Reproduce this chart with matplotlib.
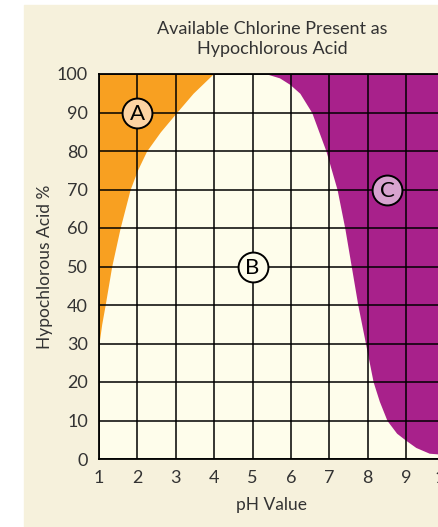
import numpy as np
import matplotlib
matplotlib.use("Agg")
import matplotlib.pyplot as plt
from matplotlib.patches import Rectangle

plt.rcParams["font.family"] = ["Lato", "DejaVu Sans"]

# boundary between region A (orange) and B (cream): pH at each % level
a_pct = [30, 35, 40, 50, 60, 70, 75, 80, 85, 90, 95, 100]
a_ph = [1.0, 1.07, 1.16, 1.33, 1.55, 1.81, 2.0, 2.24, 2.6, 3.02, 3.45, 3.97]

# boundary between region B (cream) and C (purple)
c_pct = [1.2, 1.5, 3, 5, 6.7, 10, 15, 20, 30, 40, 50, 60, 70, 80, 90, 95, 97.3, 99, 100]
c_ph = [10.0, 9.6, 9.25, 8.97, 8.75, 8.5, 8.3, 8.14, 7.94, 7.74, 7.57, 7.4, 7.2,
        6.91, 6.54, 6.23, 5.97, 5.7, 5.37]

labels = ["A", "B", "C"]
label_ph = [2.0, 5.0, 8.5]
label_pct = [90, 50, 70]
label_fill = ["#fdd3a3", "#fefdeb", "#d7a3cf"]

xticks = [1, 2, 3, 4, 5, 6, 7, 8, 9, 10]
yticks = [0, 10, 20, 30, 40, 50, 60, 70, 80, 90, 100]

orange = "#f8a021"
purple = "#a8218b"
cream = "#fefdeb"
panel = "#f6f1dc"
txt = "#333333"

fig = plt.figure(figsize=(4.39, 5.27), dpi=100)
fig.patch.set_facecolor("white")
fig.patches.append(Rectangle((24 / 439, 0), 1, (527 - 5) / 527,
                             transform=fig.transFigure, color=panel, zorder=-10))

ax = fig.add_axes([99 / 439, 68 / 527, 345.6 / 439, 385 / 527])
ax.set_facecolor(cream)
ax.set_xlim(1, 10)
ax.set_ylim(0, 100)

ax.fill_betweenx(a_pct, 1, a_ph, color=orange, lw=0, zorder=1)
ax.fill_betweenx(c_pct, c_ph, 10, color=purple, lw=0, zorder=1)

ax.set_xticks(xticks)
ax.set_yticks(yticks)
ax.grid(True, color="black", lw=1.1, zorder=2)
ax.set_axisbelow(False)
for s in ax.spines.values():
    s.set_color("black")
    s.set_linewidth(1.3)
ax.tick_params(length=0, labelsize=13, labelcolor=txt, pad=8)

for lab, x, y, fc in zip(labels, label_ph, label_pct, label_fill):
    ax.plot(x, y, "o", ms=21.5, mfc=fc, mec="black", mew=1.4, zorder=4,
            clip_on=False)
    ax.text(x, y - 0.3, lab, ha="center", va="center", fontsize=16,
            color="black", zorder=5)

ax.set_xlabel("pH Value", fontsize=12.5, color=txt, labelpad=8)
ax.xaxis.label.set_position(((272 - 99) / 345.6, 0))
fig.text(272 / 439, 1 - 39 / 527, "Available Chlorine Present as\nHypochlorous Acid",
         ha="center", va="center", fontsize=13, color=txt, linespacing=1.3)
fig.text(45 / 439, 1 - 267 / 527, "Hypochlorous Acid %", rotation=90,
         ha="center", va="center", fontsize=12.5, color=txt)

fig.savefig("out.png", dpi=100, facecolor=fig.get_facecolor())
